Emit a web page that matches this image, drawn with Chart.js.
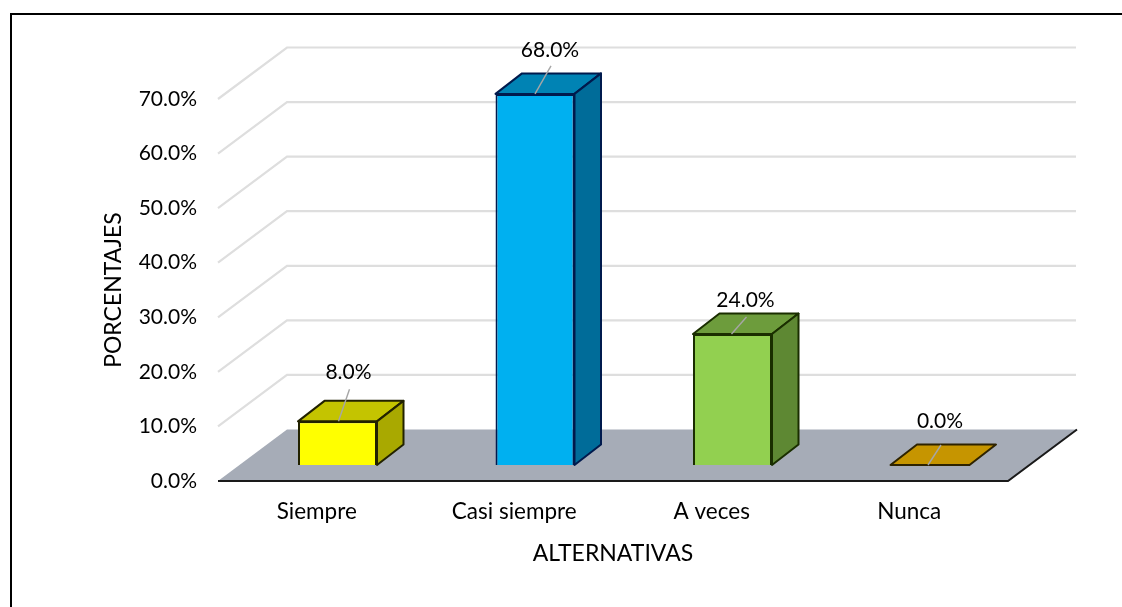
<!DOCTYPE html>
<html>
<head>
<meta charset="utf-8">
<title>Alternativas</title>
<script src="https://cdn.jsdelivr.net/npm/chart.js@4"></script>
<style>
    html, body { margin: 0; padding: 0; background: #fff; overflow: hidden; }
    canvas { display: block; }
</style>
</head>
<body>
<canvas id="chart" width="1122" height="607"></canvas>
<script>
const categories = ["Siempre", "Casi siempre", "A veces", "Nunca"];
const percentages = [8, 68, 24, 0];
const tickValues = [0, 10, 20, 30, 40, 50, 60, 70];

const frontColors = ["#ffff00", "#00b0f0", "#92d050", "#c69500"];
const topColors = ["#c4c400", "#0083b4", "#6d9c3c", "#c69500"];
const sideColors = ["#a9a900", "#006c99", "#5e8833", "#c69500"];
const edgeColors = ["#222200", "#001a4d", "#1a2e00", "#2e2300"];

// label centre and leader line ends, relative to the top middle of the bar front
const labelOffsets = [[11, -49], [15, -44], [13, -34], [10, -44]];
const leaderStarts = [[1, 0], [0, 0], [-1, 0], [-2, 0]];
const leaderEnds = [[12, -32], [16, -28], [14, -17], [11, -20]];

const FONT = "Lato, sans-serif";
const FLOOR_DX = 69;
const FLOOR_DY = -51.5;
const BAR_DX = 20.75;
const BAR_DY = -16;
const BOX_DX = 26.5;
const BOX_DY = -20.5;
const EDGE = 2;

function polygon(ctx, points, fill, stroke) {
    ctx.beginPath();
    points.forEach(([x, y], i) => (i ? ctx.lineTo(x, y) : ctx.moveTo(x, y)));
    ctx.closePath();
    ctx.fillStyle = fill;
    ctx.fill();
    if (stroke) {
        ctx.strokeStyle = stroke;
        ctx.lineWidth = EDGE;
        ctx.lineJoin = "round";
        ctx.stroke();
    }
}

function line(ctx, points, color, width) {
    ctx.beginPath();
    points.forEach(([x, y], i) => (i ? ctx.lineTo(x, y) : ctx.moveTo(x, y)));
    ctx.strokeStyle = color;
    ctx.lineWidth = width;
    ctx.stroke();
}

const scenePlugin = {
    id: "scene",
    beforeDatasetsDraw(chart) {
        const { ctx, chartArea, scales } = chart;
        const { left, right, bottom } = chartArea;
        ctx.save();

        // outer frame, only top and left in the picture
        ctx.fillStyle = "#000";
        ctx.fillRect(10, 13, 1112, 2);
        ctx.fillRect(10, 13, 2, 594);

        // back wall grid
        tickValues.slice(1).forEach((value) => {
            const y = scales.y.getPixelForValue(value);
            line(ctx, [[left, y], [left + FLOOR_DX, y + FLOOR_DY], [right + FLOOR_DX - 1, y + FLOOR_DY]], "#dedede", 2.2);
        });

        // floor
        polygon(ctx, [
            [left, bottom],
            [right, bottom],
            [right + FLOOR_DX, bottom + FLOOR_DY],
            [left + FLOOR_DX, bottom + FLOOR_DY],
        ], "#a6acb7");
        line(ctx, [[left, bottom], [right, bottom], [right + FLOOR_DX, bottom + FLOOR_DY]], "#1a1a1a", 2);
        ctx.restore();
    },
    beforeDatasetDraw(chart) {
        const { ctx } = chart;
        const bars = chart.getDatasetMeta(0).data;
        ctx.save();
        ctx.translate(BAR_DX, BAR_DY);
        bars.forEach((bar, i) => {
            const half = bar.width / 2;
            const l = bar.x - half;
            const r = bar.x + half;
            const t = bar.y;
            const b = bar.base;
            polygon(ctx, [[l, t], [r, t], [r + BOX_DX, t + BOX_DY], [l + BOX_DX, t + BOX_DY]], topColors[i], edgeColors[i]);
            if (b - t > 1) {
                polygon(ctx, [[r, t], [r + BOX_DX, t + BOX_DY], [r + BOX_DX, b + BOX_DY], [r, b]], sideColors[i], edgeColors[i]);
            }
        });
        // the bars themselves are drawn by Chart.js inside this shift
    },
    afterDatasetDraw(chart) {
        const { ctx } = chart;
        ctx.restore();
        ctx.save();
        const bars = chart.getDatasetMeta(0).data;
        ctx.font = `21px ${FONT}`;
        ctx.textAlign = "center";
        ctx.textBaseline = "middle";
        bars.forEach((bar, i) => {
            const x = bar.x + BAR_DX;
            const y = bar.y + BAR_DY;
            line(ctx, [
                [x + leaderStarts[i][0], y + leaderStarts[i][1]],
                [x + leaderEnds[i][0], y + leaderEnds[i][1]],
            ], "#a6a6a6", 1.4);
            ctx.fillStyle = "#000";
            ctx.fillText(`${percentages[i].toFixed(1)}%`, x + labelOffsets[i][0], y + labelOffsets[i][1]);
        });
        ctx.restore();
    },
};

new Chart(document.getElementById("chart"), {
    type: "bar",
    data: {
        labels: categories,
        datasets: [
            {
                data: percentages,
                backgroundColor: frontColors,
                borderColor: edgeColors,
                borderWidth: EDGE,
                categoryPercentage: 1,
                barPercentage: 0.4,
                clip: false,
            },
        ],
    },
    options: {
        responsive: false,
        animation: false,
        layout: { padding: { left: 100, top: 99, right: 114, bottom: 40 } },
        plugins: { legend: { display: false }, tooltip: { enabled: false } },
        scales: {
            x: {
                grid: { display: false, drawTicks: false },
                border: { display: false },
                ticks: { color: "#000", font: { family: FONT, size: 22.5 }, padding: 17, maxRotation: 0 },
                title: {
                    display: true,
                    text: "ALTERNATIVAS",
                    color: "#000",
                    font: { family: FONT, size: 23 },
                    padding: { top: 8, bottom: 0 },
                },
                afterFit: (scale) => { scale.height = 86; },
            },
            y: {
                min: 0,
                max: 70,
                afterBuildTicks: (scale) => { scale.ticks = tickValues.map((value) => ({ value })); },
                grid: { display: false, drawTicks: false },
                border: { display: false },
                ticks: {
                    color: "#000",
                    font: { family: FONT, size: 21 },
                    padding: 21,
                    callback: (value) => `${value.toFixed(1)}%`,
                },
                title: {
                    display: true,
                    text: "PORCENTAJES",
                    color: "#000",
                    font: { family: FONT, size: 23 },
                    padding: { top: 0, bottom: 0 },
                },
                afterFit: (scale) => { scale.width = 118; },
            },
        },
    },
    plugins: [scenePlugin],
});
</script>
</body>
</html>
